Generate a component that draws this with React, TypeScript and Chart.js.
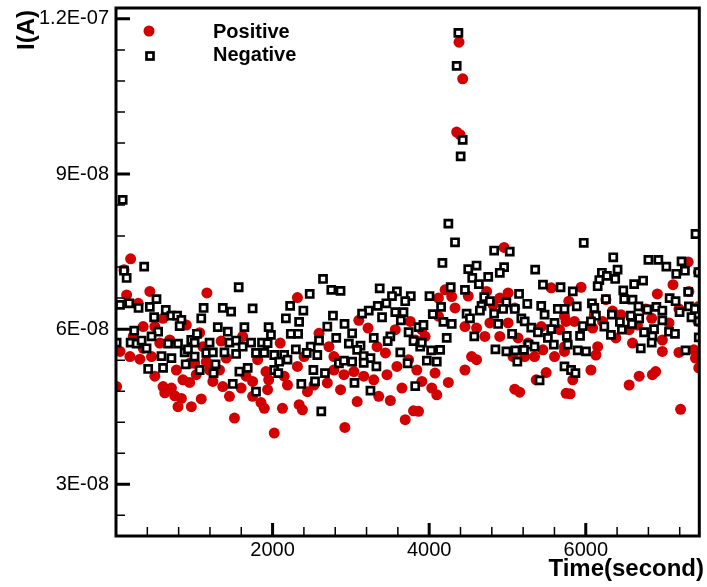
import React, { useEffect, useRef } from "react";
import { Chart, registerables } from "chart.js";

Chart.register(...registerables);

// Positive current (red circles)
const posTime = [
  187, 102, 432, 1161, 136, 284, 347, 496, 601, 898, 220, 51, 305, 454, 559, 771, 496, 855, 941, 1025,
  1237, 623, 708, 750, 835, 792, 962, 1089, 8, 1449, 1513, 1852, 1894, 1322, 1407, 1661, 1745, 1915, 1809, 1153,
  1004, 1343, 1068, 1618, 601, 686, 941, 1110, 1195, 1364, 1598, 1745, 178, 347,
  2317, 3219, 3101, 3758, 2593, 2097, 2720, 3441, 3588, 3842, 1936, 2126, 2339, 2381, 2021, 2923, 3694, 3800, 3504, 3356,
  3080, 2868, 2699, 2445, 2190, 1950, 3164, 3292, 3461, 3652, 2911, 2783, 2317, 2148, 2529, 3038, 3737, 3822, 2783, 2402,
  3334, 3567,
  4957, 4203, 4288, 4118, 4733, 5008, 4902, 5558, 4330, 4499, 4817, 5093, 5008, 4775, 4605, 4457, 4711, 4902, 4118, 3948,
  3906, 5135, 5262, 5346, 5453, 5601, 5728, 5728, 5665, 5431, 5071, 5220, 4542, 4605, 4457, 4075, 4245, 3906, 4033, 4097,
  5093, 5156, 5367, 5494, 3864, 5749,
  4381, 4428, 4351, 4394,
  5940, 5783, 7114, 7308, 7440, 6914, 6257, 7317, 7440, 5749, 6342, 6449, 6766, 6842, 7190, 7435, 6109, 6215, 6554, 6660,
  6978, 7063, 6384, 6088, 5855, 5728, 6152, 6130, 6066, 6597, 6978, 7190, 7380, 7401, 7443, 5834, 5800, 6554, 6682, 6851,
  6893, 7211,
];
const posCurrent = [
  7.36e-8, 7.15e-8, 6.73e-8, 6.7e-8, 6.66e-8, 6.5e-8, 6.05e-8, 6.05e-8, 6.21e-8, 6.08e-8, 5.86e-8, 5.57e-8, 5.42e-8, 5.47e-8, 5.73e-8, 5.21e-8, 5.09e-8, 5.02e-8, 4.97e-8, 5.12e-8,
  4.99e-8, 4.77e-8, 4.86e-8, 4.71e-8, 4.66e-8, 4.5e-8, 4.5e-8, 4.65e-8, 4.89e-8, 4.7e-8, 4.28e-8, 4.58e-8, 4.47e-8, 5.21e-8, 5.44e-8, 5.09e-8, 4.99e-8, 5.18e-8, 5.41e-8, 5.37e-8,
  5.34e-8, 5.77e-8, 5.93e-8, 5.86e-8, 4.89e-8, 5.79e-8, 5.34e-8, 5.66e-8, 5.21e-8, 4.89e-8, 4.86e-8, 4.7e-8, 5.47e-8, 5.63e-8,
  6.61e-8, 6.02e-8, 6.17e-8, 6.15e-8, 5.92e-8, 5.73e-8, 5.66e-8, 5.54e-8, 5.28e-8, 5.21e-8, 4.83e-8, 4.47e-8, 4.54e-8, 4.44e-8, 3.99e-8, 4.1e-8, 4.25e-8, 4.42e-8, 4.62e-8, 4.7e-8,
  4.6e-8, 4.83e-8, 4.96e-8, 4.79e-8, 4.92e-8, 5.02e-8, 5.09e-8, 5.02e-8, 5.12e-8, 4.86e-8, 5.12e-8, 5.21e-8, 5.28e-8, 5.09e-8, 4.92e-8, 5.18e-8, 5.41e-8, 5.79e-8, 5.47e-8, 5.47e-8,
  5.66e-8, 5.99e-8,
  7.58e-8, 6.76e-8, 6.63e-8, 6.6e-8, 6.73e-8, 6.7e-8, 6.6e-8, 6.8e-8, 6.41e-8, 6.64e-8, 6.47e-8, 6.41e-8, 6.12e-8, 6.12e-8, 6.02e-8, 6.05e-8, 5.86e-8, 5.86e-8, 6.25e-8, 5.86e-8,
  5.99e-8, 5.83e-8, 5.73e-8, 5.47e-8, 5.6e-8, 5.47e-8, 5.66e-8, 6.25e-8, 5.99e-8, 6.05e-8, 5.47e-8, 5.47e-8, 5.47e-8, 5.41e-8, 5.21e-8, 5.15e-8, 4.97e-8, 4.99e-8, 4.86e-8, 4.73e-8,
  4.84e-8, 4.78e-8, 5.02e-8, 5.16e-8, 4.41e-8, 4.76e-8,
  11.55e-8, 10.84e-8, 9.81e-8, 9.76e-8,
  6.81e-8, 6.54e-8, 6.86e-8, 7.3e-8, 7.1e-8, 6.68e-8, 6.57e-8, 6.73e-8, 6.44e-8, 6.15e-8, 6.35e-8, 6.28e-8, 6.39e-8, 6.21e-8, 6.39e-8, 6.15e-8, 6.28e-8, 6.15e-8, 5.99e-8, 6.08e-8,
  5.79e-8, 6.12e-8, 5.83e-8, 6.02e-8, 6.15e-8, 5.57e-8, 5.66e-8, 5.5e-8, 5.21e-8, 5.73e-8, 5.57e-8, 5.55e-8, 5.6e-8, 5.44e-8, 5.25e-8, 5.02e-8, 4.75e-8, 4.92e-8, 5.09e-8, 5.12e-8,
  5.18e-8, 4.45e-8,
];

// Negative current (open squares)
const negTime = [
  85, 360, 102, 136, 51, 169, 288, 432, 517, 487, 636, 708, 780, 835, 813, 1567, 1119, 1089, 1364, 1470,
  1745, 1640, 1300, 1428, 1949, 233, 538, 454, 8, 187, 263, 327, 390, 665, 792, 961, 1034, 1004, 1195, 1449,
  1534, 1725, 1865, 581, 708, 877, 919, 1153, 1237, 1385, 1534, 1618, 1788, 1894, 411, 601, 890, 1004, 1068, 1271,
  1246, 1576, 1682, 1491, 1788,
  2644, 2750, 2868, 2474, 3368, 3588, 3525, 3765, 3694, 3453, 3343, 3228, 3143, 2224, 2393, 2170, 2339, 2771, 3398, 3567,
  3672, 3638, 2699, 2919, 2233, 2326, 3016, 2813, 3292, 3504, 3737, 3864, 1979, 1936, 2593, 2974, 3123, 3470, 3800, 3885,
  2297, 2487, 2021, 2148, 2436, 2571, 3080, 3164, 3250, 3631, 2084, 2190, 2847, 2911, 3016, 3164, 3326, 3724, 2021, 2072,
  2521, 2669, 2367, 2542, 3046, 3250, 3822, 2622,
  4245, 4330, 4830, 5029, 4169, 4499, 4605, 4957, 4902, 5354, 4550, 4754, 4635, 4275, 4457, 5453, 5678, 4004, 5148, 4703,
  4775, 5253, 4986, 4152, 4669, 5431, 5643, 4046, 4478, 4648, 4830, 4944, 5093, 5474, 4521, 5177, 3927, 4182, 4288, 4881,
  5220, 5304, 5601, 5558, 4224, 4576, 5059, 5389, 3906, 5516, 5270, 5346, 5592, 4025, 4140, 4846, 4986, 5101, 5211, 3970,
  4097, 5126, 5410,
  4373, 4351, 4428, 4402,
  7402, 5974, 6351, 6800, 6927, 7223, 7029, 6406, 7266, 7156, 7440, 6206, 6270, 6376, 6173, 6732, 6618, 6152, 5834, 6479,
  7308, 6491, 6257, 6597, 7071, 7147, 6079, 5885, 5728, 6673, 6902, 7317, 6109, 6787, 6978, 7198, 7393, 6333, 6575, 6682,
  6130, 7350, 6436, 6590, 6978, 7443, 6066, 5961, 6237, 6872, 7063, 6321, 6461, 6745, 7139, 5758, 5927, 6851, 7443, 5770,
  6842, 6702, 5897, 6003, 7274, 5728, 5812, 5868,
];
const negCurrent = [
  8.5e-8, 7.21e-8, 7.13e-8, 6.99e-8, 6.47e-8, 6.5e-8, 6.41e-8, 6.43e-8, 6.58e-8, 6.23e-8, 6.37e-8, 6.26e-8, 6.26e-8, 6.18e-8, 6.06e-8, 6.81e-8, 6.41e-8, 6.21e-8, 6.41e-8, 6.34e-8,
  6.4e-8, 6.04e-8, 6.04e-8, 5.95e-8, 6.04e-8, 5.97e-8, 5.95e-8, 5.86e-8, 5.74e-8, 5.74e-8, 5.72e-8, 5.78e-8, 5.63e-8, 5.72e-8, 5.72e-8, 5.79e-8, 5.91e-8, 5.74e-8, 5.74e-8, 5.74e-8,
  5.78e-8, 5.74e-8, 5.74e-8, 5.48e-8, 5.44e-8, 5.55e-8, 5.61e-8, 5.54e-8, 5.55e-8, 5.55e-8, 5.52e-8, 5.66e-8, 5.54e-8, 5.54e-8, 5.23e-8, 5.25e-8, 5.32e-8, 5.47e-8, 5.21e-8, 5.32e-8,
  5.15e-8, 5.18e-8, 5.25e-8, 4.94e-8, 4.79e-8,
  6.97e-8, 6.76e-8, 6.74e-8, 6.68e-8, 6.79e-8, 6.73e-8, 6.64e-8, 6.64e-8, 6.54e-8, 6.5e-8, 6.45e-8, 6.36e-8, 6.3e-8, 6.45e-8, 6.36e-8, 6.21e-8, 6.14e-8, 6.26e-8, 6.23e-8, 6.33e-8,
  6.33e-8, 6.17e-8, 6.05e-8, 6.1e-8, 5.91e-8, 5.91e-8, 5.92e-8, 5.83e-8, 5.83e-8, 5.86e-8, 5.94e-8, 6.04e-8, 5.89e-8, 5.73e-8, 5.78e-8, 5.72e-8, 5.68e-8, 5.77e-8, 5.77e-8, 5.66e-8,
  5.61e-8, 5.66e-8, 5.5e-8, 5.5e-8, 5.54e-8, 5.5e-8, 5.6e-8, 5.48e-8, 5.44e-8, 5.55e-8, 5.37e-8, 5.41e-8, 5.34e-8, 5.39e-8, 5.37e-8, 5.35e-8, 5.28e-8, 5.34e-8, 5.21e-8, 5.15e-8,
  5.21e-8, 5.15e-8, 4.94e-8, 4.99e-8, 4.96e-8, 4.81e-8, 4.9e-8, 4.41e-8,
  8.04e-8, 7.68e-8, 7.52e-8, 7.5e-8, 7.28e-8, 7.16e-8, 7.23e-8, 7.2e-8, 7.09e-8, 7.15e-8, 6.99e-8, 7.01e-8, 6.87e-8, 6.81e-8, 6.76e-8, 6.86e-8, 6.81e-8, 6.64e-8, 6.68e-8, 6.62e-8,
  6.54e-8, 6.49e-8, 6.52e-8, 6.43e-8, 6.45e-8, 6.45e-8, 6.39e-8, 6.29e-8, 6.3e-8, 6.36e-8, 6.3e-8, 6.39e-8, 6.39e-8, 6.28e-8, 6.21e-8, 6.21e-8, 6.08e-8, 6.14e-8, 6.1e-8, 6.1e-8,
  6.15e-8, 6.03e-8, 6.12e-8, 6.0e-8, 5.83e-8, 5.86e-8, 5.91e-8, 5.94e-8, 5.74e-8, 5.83e-8, 5.7e-8, 5.66e-8, 5.7e-8, 5.59e-8, 5.6e-8, 5.61e-8, 5.57e-8, 5.59e-8, 5.6e-8, 5.39e-8,
  5.37e-8, 5.37e-8, 5.01e-8,
  11.73e-8, 11.09e-8, 9.66e-8, 9.34e-8,
  7.84e-8, 7.67e-8, 7.39e-8, 7.34e-8, 7.34e-8, 7.31e-8, 7.21e-8, 7.15e-8, 7.13e-8, 7.07e-8, 7.1e-8, 7.09e-8, 7.03e-8, 6.97e-8, 6.95e-8, 6.94e-8, 6.87e-8, 6.83e-8, 6.73e-8, 6.75e-8,
  6.72e-8, 6.58e-8, 6.58e-8, 6.57e-8, 6.6e-8, 6.54e-8, 6.5e-8, 6.44e-8, 6.39e-8, 6.44e-8, 6.43e-8, 6.44e-8, 6.41e-8, 6.38e-8, 6.36e-8, 6.33e-8, 6.39e-8, 6.28e-8, 6.26e-8, 6.21e-8,
  6.26e-8, 6.23e-8, 6.14e-8, 6.1e-8, 6.17e-8, 6.15e-8, 6.15e-8, 6.06e-8, 6.05e-8, 6.0e-8, 5.95e-8, 5.89e-8, 5.99e-8, 5.94e-8, 5.91e-8, 5.87e-8, 5.87e-8, 5.86e-8, 5.84e-8, 5.7e-8,
  5.74e-8, 5.63e-8, 5.59e-8, 5.57e-8, 5.59e-8, 5.28e-8, 5.21e-8, 5.15e-8,
];

const seriesNames = ["Positive", "Negative"];
const xTickValues = [2000, 4000, 6000];
const xTickLabels = ["2000", "4000", "6000"];
const xMinorTicks = [400, 800, 1200, 1600, 2400, 2800, 3200, 3600, 4400, 4800, 5200, 5600, 6400, 6800, 7200];
const yTickValues = [3e-8, 6e-8, 9e-8, 1.2e-7];
const yTickLabels = ["3E-08", "6E-08", "9E-08", "1.2E-07"];
const yMinorTicks = [2.4e-8, 3.6e-8, 4.2e-8, 4.8e-8, 5.4e-8, 6.6e-8, 7.2e-8, 7.8e-8, 8.4e-8, 9.6e-8, 10.2e-8, 10.8e-8, 11.4e-8];
const xTitle = "Time(second)";
const yTitle = "I(A)";

const RED = "#d20000";
const FONT = "'Liberation Sans', Arial, sans-serif";

const framePlugin = {
  id: "framePlugin",
  afterDatasetsDraw(chart: any) {
    const { ctx, chartArea } = chart;
    const xs = chart.scales.x;
    const ys = chart.scales.y;
    const { left, right, top, bottom } = chartArea;
    ctx.save();
    ctx.strokeStyle = "#000";
    ctx.lineCap = "butt";
    // minor ticks
    ctx.lineWidth = 1.5;
    ctx.beginPath();
    for (const v of yMinorTicks) {
      const p = ys.getPixelForValue(v);
      ctx.moveTo(left, p);
      ctx.lineTo(left + 9, p);
    }
    for (const v of xMinorTicks) {
      const p = xs.getPixelForValue(v);
      ctx.moveTo(p, bottom);
      ctx.lineTo(p, bottom - 9);
    }
    ctx.stroke();
    // major ticks
    ctx.lineWidth = 3;
    ctx.beginPath();
    for (const v of yTickValues) {
      const p = ys.getPixelForValue(v);
      ctx.moveTo(left, p);
      ctx.lineTo(left + 14, p);
    }
    for (const v of xTickValues) {
      const p = xs.getPixelForValue(v);
      ctx.moveTo(p, bottom);
      ctx.lineTo(p, bottom - 13);
    }
    ctx.stroke();
    // frame
    ctx.lineWidth = 3;
    ctx.strokeRect(left, top, right - left, bottom - top);

    // legend
    ctx.fillStyle = RED;
    ctx.beginPath();
    ctx.arc(149, 31, 5.5, 0, Math.PI * 2);
    ctx.fill();
    ctx.fillStyle = "#fff";
    ctx.lineWidth = 2.7;
    ctx.fillRect(146.5, 52.5, 7, 7);
    ctx.strokeRect(146.5, 52.5, 7, 7);
    ctx.fillStyle = "#000";
    ctx.font = `bold 20px ${FONT}`;
    ctx.textAlign = "left";
    ctx.textBaseline = "alphabetic";
    ctx.fillText(seriesNames[0], 213, 38);
    ctx.fillText(seriesNames[1], 213, 61);

    // axis titles
    ctx.font = `bold 24px ${FONT}`;
    ctx.textAlign = "right";
    ctx.fillText(xTitle, 704, 576);
    ctx.save();
    ctx.translate(34, 50);
    ctx.rotate(-Math.PI / 2);
    ctx.textAlign = "left";
    ctx.fillText(yTitle, 0, 0);
    ctx.restore();
    ctx.restore();
  },
};

export default function App() {
  const ref = useRef<HTMLCanvasElement>(null);
  useEffect(() => {
    if (!ref.current) return;
    const chart = new Chart(ref.current, {
      type: "scatter",
      data: {
        datasets: [
          {
            label: seriesNames[0],
            data: posTime.map((t, i) => ({ x: t, y: posCurrent[i] })),
            pointStyle: "circle",
            pointRadius: 5.5,
            pointHoverRadius: 5.5,
            backgroundColor: RED,
            borderColor: RED,
            borderWidth: 0,
            order: 1,
          },
          {
            label: seriesNames[1],
            data: negTime.map((t, i) => ({ x: t, y: negCurrent[i] })),
            pointStyle: "rect",
            pointRadius: 5,
            pointHoverRadius: 5,
            backgroundColor: "#fff",
            borderColor: "#000",
            borderWidth: 2.7,
            order: 0,
          },
        ],
      },
      options: {
        animation: false,
        responsive: false,
        devicePixelRatio: 1,
        events: [],
        layout: { padding: { left: 0, top: 8, right: 4, bottom: 0 } },
        plugins: { legend: { display: false }, tooltip: { enabled: false }, title: { display: false } },
        scales: {
          x: {
            type: "linear",
            position: "bottom",
            min: 0,
            max: 7450,
            grid: { display: false, drawTicks: false },
            border: { display: false },
            afterBuildTicks: (s: any) => {
              s.ticks = xTickValues.map((v) => ({ value: v }));
            },
            afterFit: (s: any) => {
              s.height = 51;
              s.paddingLeft = 0;
              s.paddingRight = 0;
            },
            ticks: {
              autoSkip: false,
              maxRotation: 0,
              padding: 2,
              color: "#000",
              font: { family: FONT, size: 20 },
              callback: (v: any) => {
                const i = xTickValues.indexOf(Number(v));
                return i >= 0 ? xTickLabels[i] : "";
              },
            },
          },
          y: {
            type: "linear",
            position: "left",
            min: 2e-8,
            max: 1.221e-7,
            grid: { display: false, drawTicks: false },
            border: { display: false },
            afterBuildTicks: (s: any) => {
              s.ticks = yTickValues.map((v) => ({ value: v }));
            },
            afterFit: (s: any) => {
              s.width = 116;
              s.paddingTop = 0;
              s.paddingBottom = 0;
            },
            ticks: {
              autoSkip: false,
              padding: 7,
              color: "#000",
              font: { family: FONT, size: 20 },
              callback: (v: any) => {
                const i = yTickValues.findIndex((t) => Math.abs(t - Number(v)) < 1e-12);
                return i >= 0 ? yTickLabels[i] : "";
              },
            },
          },
        },
      },
      plugins: [framePlugin],
    });
    return () => chart.destroy();
  }, []);
  return (
    <div style={{ position: "absolute", left: 0, top: 0, width: 707, height: 587, background: "#fff" }}>
      <canvas ref={ref} width={707} height={587} style={{ display: "block" }} />
    </div>
  );
}
